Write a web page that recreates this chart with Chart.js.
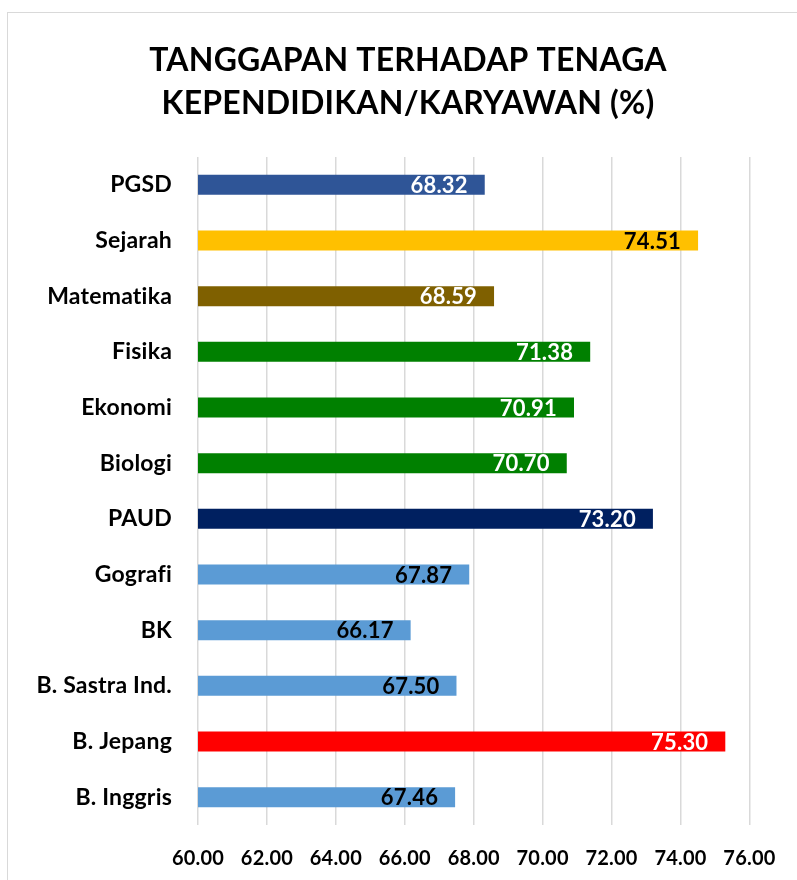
<!DOCTYPE html>
<html>
<head>
<meta charset="utf-8">
<script src="https://cdn.jsdelivr.net/npm/chart.js@4"></script>
<style>
    html, body { margin: 0; padding: 0; background: #ffffff; }
    #wrap { position: relative; width: 797px; height: 880px; overflow: hidden; }
    #frame {
        position: absolute; left: 7px; top: 12px; width: 820px; height: 900px;
        border: 1px solid #d9d9d9; box-sizing: border-box;
    }
    canvas { position: absolute; left: 0; top: 0; }
</style>
</head>
<body>
<div id="wrap">
    <div id="frame"></div>
    <canvas id="chart" width="797" height="880"></canvas>
</div>
<script>
const categories = ['PGSD', 'Sejarah', 'Matematika', 'Fisika', 'Ekonomi', 'Biologi',
    'PAUD', 'Gografi', 'BK', 'B. Sastra Ind.', 'B. Jepang', 'B. Inggris'];
const values = [68.32, 74.51, 68.59, 71.38, 70.91, 70.70, 73.20, 67.87, 66.17, 67.50, 75.30, 67.46];
const barColors = ['#2F5597', '#FFC000', '#7F6000', '#008000', '#008000', '#008000',
    '#002060', '#5B9BD5', '#5B9BD5', '#5B9BD5', '#FF0000', '#5B9BD5'];
const labelColors = ['#ffffff', '#000000', '#ffffff', '#ffffff', '#ffffff', '#ffffff',
    '#ffffff', '#000000', '#000000', '#000000', '#ffffff', '#000000'];
const titleLines = ['TANGGAPAN TERHADAP TENAGA', 'KEPENDIDIKAN/KARYAWAN (%)'];
const axisMin = 60;
const axisMax = 76;
const axisStep = 2;

const fontFamily = 'Lato, "Open Sans", sans-serif';

// tiny letter spacing keeps Lato from drawing "fi"/"ti" ligatures
const noLigatures = {
    id: 'noLigatures',
    beforeDraw(chart) {
        chart.ctx.letterSpacing = '0.2px';
    }
};

// two-line title, centred over the frame rather than the canvas
const chartTitle = {
    id: 'chartTitle',
    afterDraw(chart) {
        const { ctx } = chart;
        ctx.save();
        ctx.font = 'bold 32px ' + fontFamily;
        ctx.fillStyle = '#000000';
        ctx.textAlign = 'center';
        ctx.textBaseline = 'middle';
        titleLines.forEach((line, i) => ctx.fillText(line, 408, 61 + i * 43));
        ctx.restore();
    }
};

// value labels drawn inside the end of each bar
const valueLabels = {
    id: 'valueLabels',
    afterDatasetsDraw(chart) {
        const { ctx } = chart;
        const meta = chart.getDatasetMeta(0);
        ctx.save();
        ctx.font = 'bold 22px ' + fontFamily;
        ctx.textAlign = 'right';
        ctx.textBaseline = 'middle';
        meta.data.forEach((bar, i) => {
            ctx.fillStyle = labelColors[i];
            ctx.fillText(values[i].toFixed(2), bar.x - 17, bar.y + 1);
        });
        ctx.restore();
    }
};

new Chart(document.getElementById('chart').getContext('2d'), {
    type: 'bar',
    data: {
        labels: categories,
        datasets: [{
            data: values,
            backgroundColor: barColors,
            borderWidth: 0,
            barPercentage: 0.36,
            categoryPercentage: 1
        }]
    },
    options: {
        indexAxis: 'y',
        responsive: false,
        animation: false,
        layout: { padding: { left: 0, right: 45, top: 157, bottom: 0 } },
        plugins: {
            legend: { display: false },
            tooltip: { enabled: false },
            title: { display: false }
        },
        scales: {
            x: {
                min: axisMin,
                max: axisMax,
                afterFit: (scale) => { scale.height = 55; },
                ticks: {
                    stepSize: axisStep,
                    color: '#000000',
                    padding: 22,
                    maxRotation: 0,
                    font: { family: fontFamily, size: 20, weight: 'bold' },
                    callback: (v) => Number(v).toFixed(2)
                },
                grid: { color: '#d9d9d9', lineWidth: 1.5, drawTicks: false },
                border: { display: false }
            },
            y: {
                afterFit: (scale) => { scale.width = 198; },
                ticks: {
                    color: '#000000',
                    padding: 26,
                    font: { family: fontFamily, size: 23, weight: 'bold' }
                },
                grid: { display: false, drawTicks: false },
                border: { display: false }
            }
        }
    },
    plugins: [noLigatures, valueLabels, chartTitle]
});
</script>
</body>
</html>
